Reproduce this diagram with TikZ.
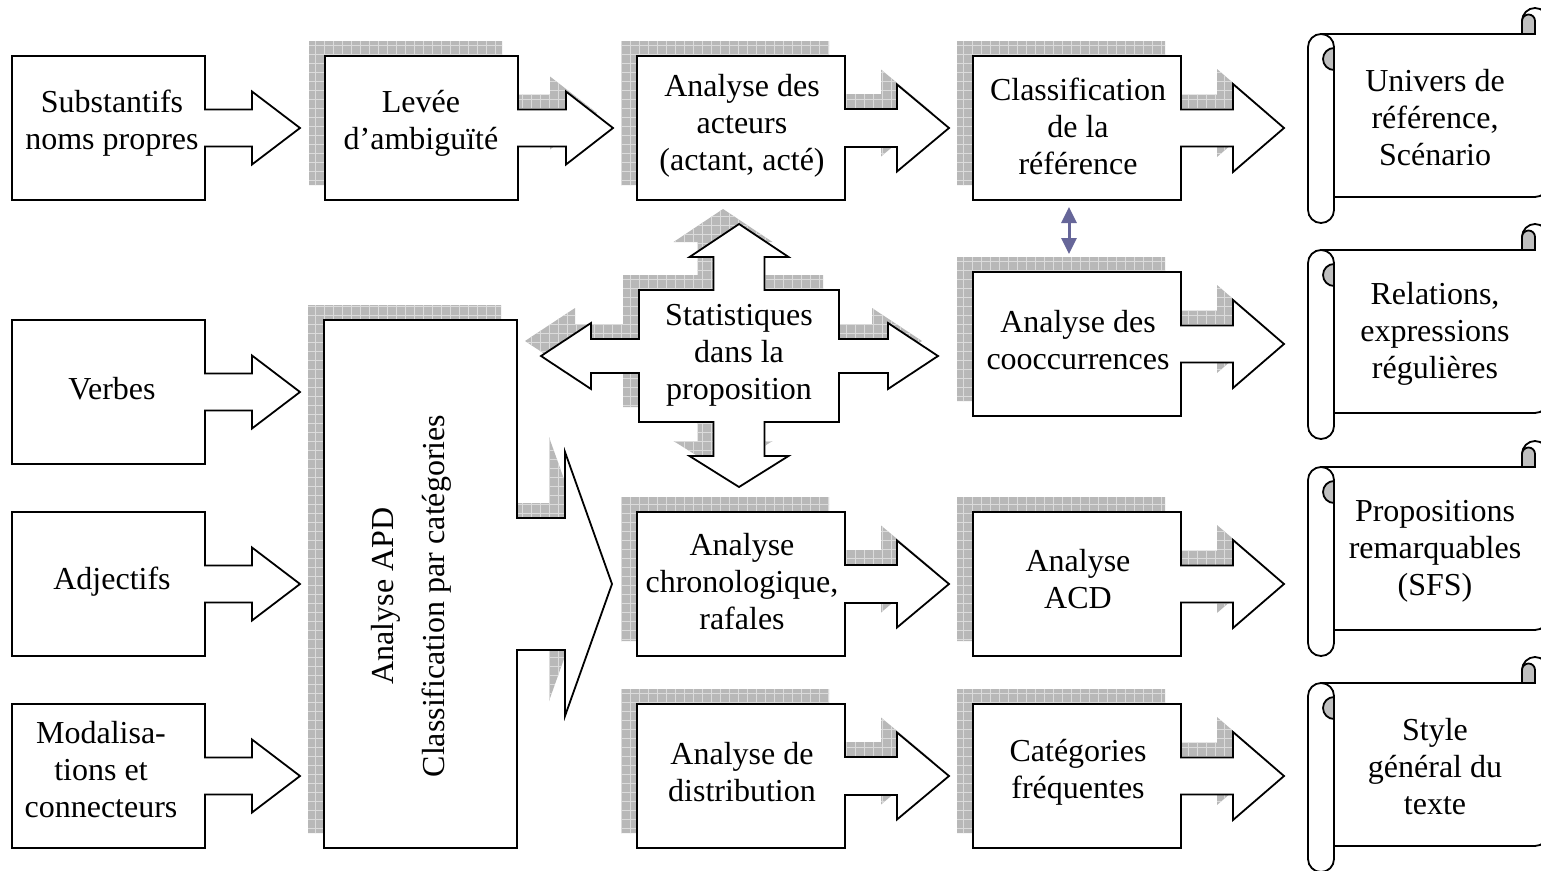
\documentclass[tikz,border=0pt]{standalone}
\usepackage{fontspec}
\setmainfont{Liberation Serif}
\usetikzlibrary{arrows.meta}

% right-pointing arrow box: left, top, box right, bottom, head base x, tip x, shaft half height, head half height
\newcommand\abpath[8]{(#1,#2) -- (#3,#2) -- (#3,{(#2+#4)/2-#7}) -- (#5,{(#2+#4)/2-#7}) -- (#5,{(#2+#4)/2-#8}) -- (#6,{(#2+#4)/2}) -- (#5,{(#2+#4)/2+#8}) -- (#5,{(#2+#4)/2+#7}) -- (#3,{(#2+#4)/2+#7}) -- (#3,#4) -- (#1,#4) -- cycle}
\newcommand\colA[2]{\abpath{12}{#1}{205}{#2}{252}{300}{18.5}{36.5}}
\newcommand\colB[2]{\abpath{325}{#1}{518}{#2}{566}{613}{18.5}{36.5}}
\newcommand\colC[2]{\abpath{637}{#1}{845}{#2}{897}{949}{19}{43.5}}
\newcommand\colD[2]{\abpath{973}{#1}{1181}{#2}{1233}{1284}{18.5}{44}}
% four-way arrow around the statistics box
\newcommand\crosspath{(739,224) -- (788.5,257) -- (764.5,257) -- (764.5,290) -- (839,290) -- (839,339) -- (888,339) -- (888,323) -- (938,356) -- (888,389) -- (888,373) -- (839,373) -- (839,422) -- (764.5,422) -- (764.5,456) -- (788.5,456) -- (739,487) -- (689.5,456) -- (713.5,456) -- (713.5,422) -- (639,422) -- (639,373) -- (591,373) -- (591,389) -- (541,356) -- (591,323) -- (591,339) -- (639,339) -- (639,290) -- (713.5,290) -- (713.5,257) -- (689.5,257) -- cycle}
% tall APD box with its wide arrow
\newcommand\apdpath{(324,320) -- (517,320) -- (517,518) -- (565,518) -- (565,452) -- (612,584) -- (565,716) -- (565,650) -- (517,650) -- (517,848) -- (324,848) -- cycle}

% hatched drop shadow behind a shape
\newcommand\dropshadow[1]{%
  \begin{scope}
    \clip[shift={(-16,-15)}] #1;
    \fill[shadowfill] (0,0) rectangle (1541,870);
    \draw[shadowgrid] (0,0) grid (1541,870);
  \end{scope}}

% scroll with rolled left edge and curled top-right corner; #1 = top
\newcommand\scrollshape[1]{%
  \pgfmathsetmacro\sT{#1}%
  \pgfmathsetmacro\sB{#1+215}%
  \draw[outline] (1308,\sT+39) arc[start angle=180,end angle=270,radius=13] -- (1522,\sT+26) -- (1522,\sT+13) arc[start angle=180,end angle=360,radius=13] -- (1548,\sB-39) arc[start angle=0,end angle=90,radius=13] -- (1334,\sB-26) -- (1334,\sB-13) arc[start angle=0,end angle=180,radius=13] -- cycle;
  \draw[edge] (1321,\sT+26) arc[start angle=270,end angle=360,radius=13] -- (1334,\sB-26);
  \filldraw[curl] (1334,\sT+40) arc[start angle=270,end angle=90,radius=11] -- cycle;
  \filldraw[curl] (1522,\sT+26) -- (1522,\sT+13) arc[start angle=180,end angle=360,radius=6.5] -- (1535,\sT+26) -- cycle;
}

\begin{document}
\begin{tikzpicture}[x=1pt,y=-1pt,
  edge/.style={draw=black, line width=1.8pt, line join=miter},
  outline/.style={edge, fill=white},
  curl/.style={edge, fill=black!25},
  shadowfill/.style={fill=black!28},
  shadowgrid/.style={draw=black!14, line width=0.7pt, step=9pt},
  label/.style={align=center, font=\fontsize{32}{37}\selectfont, inner sep=0pt},
  linkarrow/.style={draw=linkblue, line width=3pt,
    {Triangle[length=16pt,width=15pt]}-{Triangle[length=16pt,width=15pt]}}]
\definecolor{linkblue}{HTML}{666699}
\useasboundingbox (0,0) rectangle (1541,870);
\clip (0,0) rectangle (1541,870);

% shadows
\dropshadow{\colB{56}{200}}
\dropshadow{\colC{56}{200}}
\dropshadow{\colC{512}{656}}
\dropshadow{\colC{704}{848}}
\dropshadow{\colD{56}{200}}
\dropshadow{\colD{272}{416}}
\dropshadow{\colD{512}{656}}
\dropshadow{\colD{704}{848}}
\dropshadow{\crosspath}
\dropshadow{\apdpath}

% input boxes
\draw[outline] \colA{56}{200};
\draw[outline] \colA{320}{464};
\draw[outline] \colA{512}{656};
\draw[outline] \colA{704}{848};
% processing boxes
\draw[outline] \colB{56}{200};
\draw[outline] \apdpath;
\draw[outline] \colC{56}{200};
\draw[outline] \crosspath;
\draw[outline] \colC{512}{656};
\draw[outline] \colC{704}{848};
\draw[outline] \colD{56}{200};
\draw[outline] \colD{272}{416};
\draw[outline] \colD{512}{656};
\draw[outline] \colD{704}{848};
% result scrolls
\scrollshape{8}
\scrollshape{224}
\scrollshape{441}
\scrollshape{657}

% texts
\node[label] (subst) at (112,123) {Substantifs\\noms propres};
\node[label] (verbes) at (112,389) {Verbes};
\node[label] (adj) at (112,582) {Adjectifs};
\node[label] (modal) at (101,770) {Modalisa-\\tions et\\connecteurs};
\node[label] (levee) at (421,123) {Levée\\d’ambiguïté};
\node[label, rotate=90, font=\fontsize{32}{51}\selectfont] (apd) at (411,596) {Analyse APD\\Classification par catégories};
\node[label] (acteurs) at (742,126) {Analyse des\\acteurs\\(actant, acté)};
\node[label] (stats) at (739,355) {Statistiques\\dans la\\proposition};
\node[label] (chrono) at (742,582) {Analyse\\chronologique,\\rafales};
\node[label] (distrib) at (742,772) {Analyse de\\distribution};
\node[label] (classif) at (1078,126) {Classification\\de la\\référence};
\node[label] (cooc) at (1078,340) {Analyse des\\cooccurrences};
\node[label] (acd) at (1078,579) {Analyse\\ACD};
\node[label] (freq) at (1078,772) {Catégories\\fréquentes};
\node[label] (univers) at (1435,118) {Univers de\\référence,\\Scénario};
\node[label] (relations) at (1435,334) {Relations,\\expressions\\régulières};
\node[label] (props) at (1435,551) {Propositions\\remarquables\\(SFS)};
\node[label] (style) at (1435,767) {Style\\général du\\texte};

% link between reference classification and cooccurrences
\coordinate (classif-foot) at (1069,207);
\coordinate (cooc-head) at (1069,254);
\draw[linkarrow] (classif-foot) -- (cooc-head);
\end{tikzpicture}
\end{document}
